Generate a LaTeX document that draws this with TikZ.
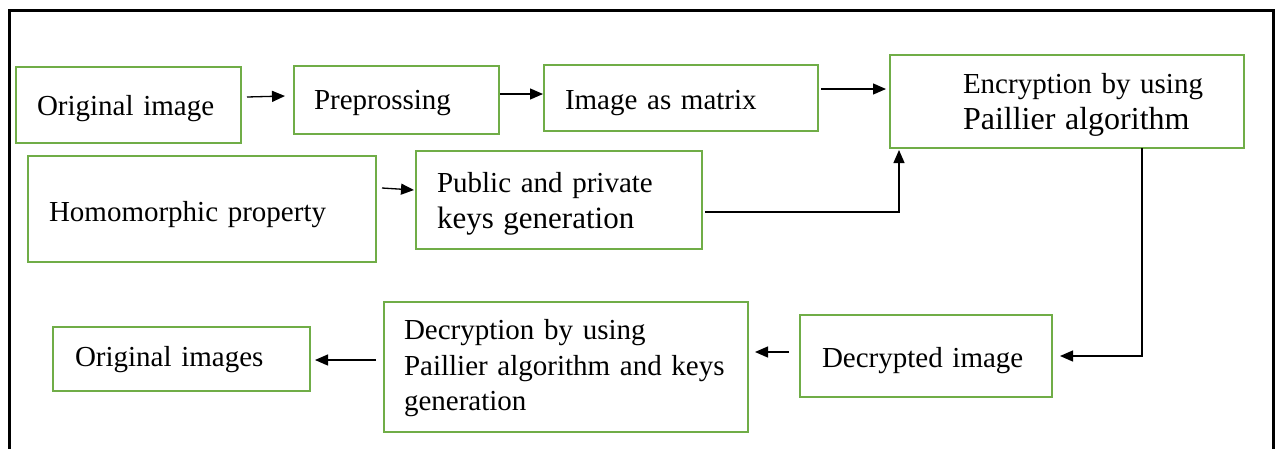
\documentclass[tikz,border=0pt]{standalone}
\usepackage{fontspec}
\setmainfont{Liberation Serif}
\usetikzlibrary{arrows.meta,calc}
\definecolor{boxgreen}{HTML}{70AD47}
% left indent of a text line inside a stage box
\newcommand\lpad[1]{\hspace*{#1pt}}
% invisible strut on the first line: lowers the text block inside its box
\newcommand\drop[1]{\rule{0pt}{#1pt}}
\newcommand\bigline{\fontsize{32}{36}\selectfont}
\newcommand\biggerline{\fontsize{31}{36}\selectfont}
\tikzset{
  stage/.style={draw=boxgreen, line width=2pt, anchor=north west, outer sep=0pt,
    inner xsep=0pt, inner ysep=0pt, align=left, font=\fontsize{29}{35.5}\selectfont},
  flow/.style={draw=black, line width=1.3pt, -{Triangle[length=13pt,width=11pt]}},
  frame/.style={draw=black, line width=3pt}
}
\begin{document}
\begin{tikzpicture}[x=1pt,y=-1pt]
\useasboundingbox (0,0) rectangle (1280,448);
% outer frame (open at the bottom)
\draw[frame] (9.5,452) -- (9.5,10.5) -- (1273,10.5) -- (1273,452);

% stages
\node[stage, text width=225pt, minimum height=76pt] (orig) at (16,67)
  {\lpad{21}\drop{28}Original image};
\node[stage, text width=205pt, minimum height=68pt] (prep) at (294,66)
  {\lpad{20}\drop{26}Preprossing};
\node[stage, text width=274pt, minimum height=66pt] (mat) at (544,65)
  {\lpad{21}\drop{29}Image as matrix};
\node[stage, text width=354pt, minimum height=93pt] (enc) at (890,55)
  {\lpad{73}\drop{27}Encryption by using\\ \lpad{73}\bigline Paillier algorithm};
\node[stage, text width=348pt, minimum height=106pt] (homo) at (28,156)
  {\lpad{21}\drop{32}Homomorphic property};
\node[stage, text width=286pt, minimum height=98pt] (pub) at (416,151)
  {\lpad{21}\drop{28}Public and private\\ \lpad{21}\biggerline keys generation};
\node[stage, text width=257pt, minimum height=64pt] (oimgs) at (53,327)
  {\lpad{22}\drop{22}Original images};
\node[stage, text width=364pt, minimum height=130pt] (decn) at (384,302)
  {\lpad{20}\drop{23}Decryption by using\\ \lpad{20}Paillier algorithm and keys\\ \lpad{20}generation};
\node[stage, text width=252pt, minimum height=82pt] (decr) at (800,315)
  {\lpad{22}\drop{30}Decrypted image};

% connectors
\draw[flow] ($(orig.east)+(6,-8)$) -- ($(prep.west)+(-9,-4)$);
\draw[flow] ($(prep.east)+(1,-6)$) -- ($(mat.west)+(-1,-4)$);
\draw[flow] ($(mat.east)+(3,-9)$) -- ($(enc.west)+(-4,-12.5)$);
\draw[flow] ($(homo.east)+(6,-21)$) -- ($(pub.west)+(-2,-10)$);
\draw[flow] ($(pub.east)+(3,12)$) -| ($(enc.south west)+(9,2)$);
\draw[flow] ($(enc.south east)+(-102,0)$) |- ($(decr.east)+(8,0)$);
\draw[flow] ($(decr.west)+(-11,-4)$) -- ($(decn.east)+(7,-15)$);
\draw[flow] ($(decn.west)+(-8,-7)$) -- ($(oimgs.east)+(5,1)$);
\end{tikzpicture}
\end{document}
